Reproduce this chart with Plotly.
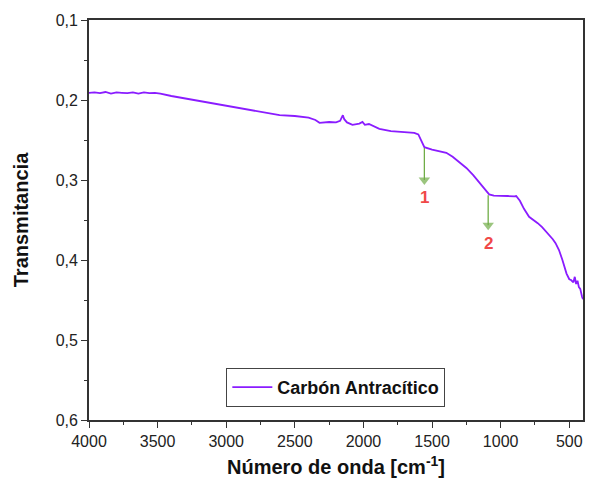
import plotly.graph_objects as go

# Spectrum (wavenumber cm^-1, transmittance)
wavenumber = [4000, 3960, 3920, 3880, 3840, 3800, 3760, 3720, 3680, 3640, 3600, 3560, 3520,
              3480, 3400, 3300, 3200, 3100, 3000, 2900, 2800, 2700, 2611, 2500, 2400, 2350,
              2320, 2250, 2200, 2170, 2150, 2140, 2120, 2080, 2050, 2030, 2007, 1990, 1960,
              1930, 1884, 1800, 1700, 1630, 1600, 1575, 1556, 1500, 1450, 1396, 1350, 1302,
              1250, 1200, 1156, 1120, 1084, 1050, 1000, 950, 900, 887, 860, 830, 793, 760,
              730, 698, 660, 620, 600, 575, 550, 520, 500, 487, 470, 460, 450, 440, 430,
              420, 407, 400]
transmittance = [0.191, 0.1905, 0.1915, 0.190, 0.192, 0.1905, 0.191, 0.1915, 0.1905, 0.192,
                 0.1905, 0.1915, 0.191, 0.192, 0.195, 0.198, 0.201, 0.204, 0.207, 0.210,
                 0.213, 0.216, 0.219, 0.220, 0.222, 0.225, 0.2285, 0.2275, 0.228, 0.226,
                 0.219, 0.224, 0.228, 0.231, 0.230, 0.2295, 0.2275, 0.231, 0.230, 0.232,
                 0.236, 0.239, 0.240, 0.241, 0.243, 0.251, 0.259, 0.262, 0.264, 0.266,
                 0.271, 0.2775, 0.285, 0.294, 0.303, 0.311, 0.318, 0.3195, 0.3195, 0.320,
                 0.3205, 0.320, 0.326, 0.336, 0.346, 0.350, 0.354, 0.359, 0.366, 0.374,
                 0.379, 0.3875, 0.400, 0.417, 0.424, 0.425, 0.428, 0.421, 0.430, 0.426,
                 0.434, 0.436, 0.446, 0.449]

series_name = "Carbón Antracítico"

# Peak markers: position, arrow start, arrow head centre, label position
peak_labels = ["1", "2"]
peak_x = [1556, 1091]
peak_start = [0.260, 0.319]
peak_end = [0.300, 0.3565]
peak_label_y = [0.3215, 0.379]

x_ticks = [4000, 3500, 3000, 2500, 2000, 1500, 1000, 500]
y_ticks = [0.1, 0.2, 0.3, 0.4, 0.5, 0.6]

FONT = "Arial, Liberation Sans"

fig = go.Figure()
fig.add_trace(go.Scatter(
    x=wavenumber, y=transmittance, mode="lines", name=f"<b>{series_name}</b>",
    line=dict(color="#8A1CFF", width=1.8),
))

for lab, px, ys, ye, yl in zip(peak_labels, peak_x, peak_start, peak_end, peak_label_y):
    fig.add_trace(go.Scatter(
        x=[px, px], y=[ys, ye], mode="lines+markers", showlegend=False, hoverinfo="skip",
        line=dict(color="#70AD47", width=1.3),
        marker=dict(symbol="triangle-down", size=[0, 10], color="#70AD47",
                    line=dict(width=0)),
    ))
    fig.add_annotation(x=px, y=yl, xref="x", yref="y", text=f"<b>{lab}</b>",
                       showarrow=False, font=dict(family=FONT, size=17, color="#F04848"))

axis_common = dict(
    showline=True, linecolor="#333333", linewidth=1.8, mirror=True,
    ticks="outside", ticklen=6, tickwidth=1.3, tickcolor="#333333",
    showgrid=False, zeroline=False,
    tickfont=dict(family=FONT, size=16, color="#222222"),
)

fig.update_xaxes(range=[4000, 400], tickvals=x_ticks,
                 minor=dict(ticks="outside", ticklen=3, tickwidth=1.3, tickcolor="#333333",
                            dtick=250),
                 title=dict(text="<b>Número de onda [cm<sup>-1</sup>]</b>", standoff=11,
                            font=dict(family=FONT, size=20, color="#111111")),
                 **axis_common)
fig.update_yaxes(range=[0.6, 0.1], tickvals=y_ticks, tickformat=".1f",
                 minor=dict(ticks="outside", ticklen=3, tickwidth=1.3, tickcolor="#333333",
                            dtick=0.05),
                 title=dict(text="<b>Transmitancia</b>", standoff=22,
                            font=dict(family=FONT, size=20, color="#111111")),
                 **axis_common)

fig.update_layout(
    width=589, height=487,
    margin=dict(l=89, r=4, t=20, b=67),
    plot_bgcolor="white", paper_bgcolor="white",
    separators=",.",
    showlegend=True,
    legend=dict(x=0.278, y=0.13, xanchor="left", yanchor="top",
                bordercolor="#444444", borderwidth=1, bgcolor="white",
                font=dict(family=FONT, size=18, color="#111111"),
                itemwidth=40, tracegroupgap=0),
)

fig.write_html("out.html")
